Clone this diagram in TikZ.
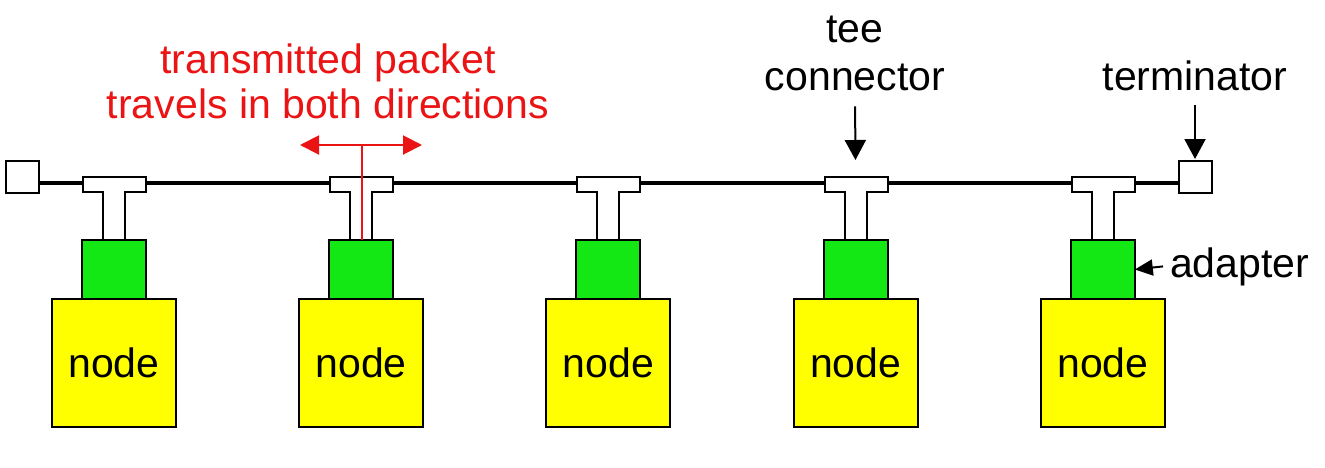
\documentclass[tikz,border=0pt]{standalone}
\usepackage{fontspec}
\setmainfont{Liberation Sans}
\usetikzlibrary{arrows.meta,positioning}
\definecolor{stncolor}{RGB}{255,255,0}
\definecolor{adpcolor}{RGB}{20,232,20}
\definecolor{pktcolor}{RGB}{235,20,20}

\begin{document}
\begin{tikzpicture}[x=0.5pt, y=-0.5pt, every node/.style={font=\fontsize{20.5}{24}\selectfont},
    station/.style={draw, line width=1pt, fill=stncolor, minimum width=62pt, minimum height=64pt, inner sep=0pt, outer sep=0pt},
    adapter/.style={draw, line width=1pt, fill=adpcolor, minimum width=32pt, minimum height=29.5pt, inner sep=0pt, outer sep=0pt},
    termbox/.style={draw, line width=1pt, fill=white, minimum width=16.5pt, minimum height=16pt, inner sep=0pt, outer sep=0pt},
    bus/.style={line width=1.8pt},
    teeshape/.style={draw, line width=1pt, fill=white},
    callout/.style={line width=1pt, -{Triangle[length=10pt,width=10.5pt]}},
    pkt/.style={draw=pktcolor, line width=1pt}]
      \useasboundingbox (0,0) rectangle (1325,467);

      % Terminators at both ends of the bus
      \node[termbox] (termL) at (22,177) {};
      \node[termbox] (termR) at (1195,177) {};
      \draw[bus] ([yshift=-3pt]termL.east) -- ([yshift=-3pt]termR.west);

      % Five stations: node, adapter, tee
      \foreach \i in {1,...,5} {
        \pgfmathsetmacro{\cx}{114+247.2*(\i-1)}
        \node[station] (stn\i) at (\cx,363) {node};
        \node[adapter, above=0pt of stn\i] (adp\i) {};
        % tee: bar on the bus, stem down to the adapter
        \draw[teeshape] (\cx-31,177) -- (\cx+32,177) -- (\cx+32,192) -- (\cx+11,192)
          -- (\cx+11,240) -- (\cx-11,240) -- (\cx-11,192) -- (\cx-31,192) -- cycle;
        \coordinate (tee\i) at (\cx,177);
      }

      % Labels
      \node[align=center, anchor=base] (teelbl) at (855,90) {tee\\connector};
      \node[anchor=base] (termlbl) at (1195,90) {terminator};
      \node[anchor=base west] (adplbl) at (1163,277) {adapter};
      \draw[callout, shorten <=4.5pt, shorten >=8.5pt] (teelbl.south) -- (tee4);
      \draw[callout, shorten <=4pt, shorten >=1pt] (termlbl.south) -- (termR.north);
      \draw[line width=1pt, -{Triangle[length=9pt,width=8pt]}] (adplbl.west) -- (adp5.east);

      % Packet travelling both ways
      \node[pktcolor, align=center, anchor=base, font=\fontsize{20.5}{22.5}\selectfont] (pktlbl) at (328,118)
        {transmitted packet\\travels in both directions};
      \coordinate (pkt) at (362,145);
      \draw[pkt, {Triangle[length=9.5pt,width=9.5pt]}-{Triangle[length=9.5pt,width=9.5pt]}]
        ([xshift=-31pt]pkt) -- ([xshift=30pt]pkt);
      \draw[pkt] (pkt) -- (pkt |- adp2.north);
\end{tikzpicture}
\end{document}
